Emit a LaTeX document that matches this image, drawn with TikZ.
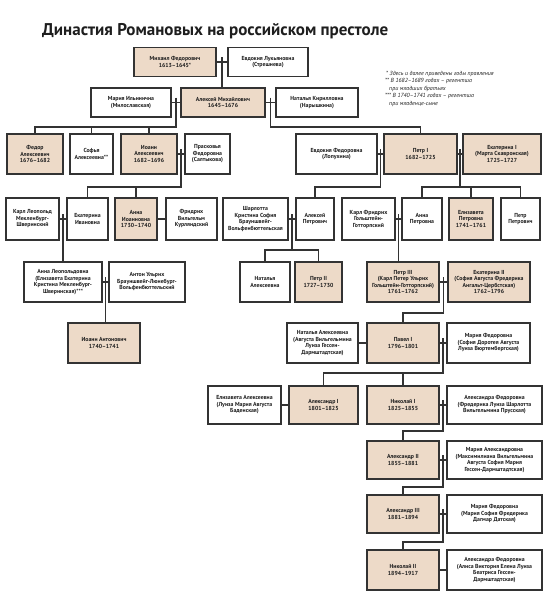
\documentclass[tikz,border=0pt]{standalone}
\usepackage{fontspec}
\setmainfont{PT Sans}
\usetikzlibrary{calc}
\definecolor{ruler}{HTML}{EDDAC8}
\definecolor{edge}{HTML}{333333}
\definecolor{ink}{HTML}{1E1E1E}
\newcommand{\famnode}[7]{\node[#1,minimum width=#5pt,minimum height=#6pt] (#2) at (#3,#4) {#7};}
\newcommand{\wed}[3]{\coordinate (#1) at ($(#2.east)!0.5!(#3.west)$); \draw[conn] (#2.east) -- (#3.west);}
\begin{document}
\begin{tikzpicture}[x=1pt,y=-1pt,
  plain/.style={draw=edge, line width=1.3pt, fill=white, align=center, inner sep=0.5pt,
    font=\fontsize{5.8}{6.5}\selectfont\bfseries, text=ink},
  rul/.style={plain, fill=ruler},
  conn/.style={draw=edge, line width=1.2pt}]
\fill[white] (0,0) rectangle (548,600);
\useasboundingbox (0,0) rectangle (548,600);

\node[anchor=base west, font=\fontsize{17}{20}\selectfont\bfseries, text=ink, inner sep=0pt] (title) at (42,35) {Династия Романовых на российском престоле};

\node[anchor=north west, align=left, inner sep=0pt, font=\fontsize{5.9}{7.4}\selectfont\itshape, text=ink] (notes) at (385,71)
 {\,* Здесь и далее приведены годы правления\\
  ** В 1682–1689 годах – регентша\\
  \hspace{4pt}при младших братьях\\
  *** В 1740–1741 годах – регентша\\
  \hspace{4pt}при младенце-сыне};

% row 1
\famnode{rul}{mikh}{175}{62}{82}{29}{Михаил Федорович\\1613–1645*}
\famnode{plain}{evdL}{268}{62}{80}{29}{Евдокия Лукьяновна\\(Стрешнева)}
% row 2
\famnode{plain}{maria}{131}{102.5}{80}{29}{Мария Ильинична\\(Милославская)}
\famnode{rul}{alexey}{223}{102.5}{84}{29}{Алексей Михайлович\\1645–1676}
\famnode{plain}{natK}{317}{102.5}{82}{29}{Наталья Кирилловна\\(Нарышкина)}
% row 3
\famnode{rul}{fedor}{35}{154}{56}{40}{Федор\\Алексеевич\\1676–1682}
\famnode{plain}{sofia}{91.5}{154}{43}{40}{Софья\\Алексеевна**}
\famnode{rul}{ioann}{149}{154}{56}{40}{Иоанн\\Алексеевич\\1682–1696}
\famnode{plain}{prask}{207.5}{154}{45}{40}{Прасковья\\Федоровна\\(Салтыкова)}
\famnode{plain}{evdF}{336.5}{154}{81}{40}{Евдокия Федоровна\\(Лопухина)}
\famnode{rul}{petr1}{420.5}{154}{73}{40}{Петр I\\1682–1725}
\famnode{rul}{ekat1}{502}{154}{78}{40}{Екатерина I\\(Марта Скавронская)\\1725–1727}
% row 4
\famnode{plain}{karlL}{32.5}{219}{53}{42}{Карл Леопольд\\Мекленбург-\\Шверинский}
\famnode{plain}{ekatI}{87.5}{219}{41}{42}{Екатерина\\Ивановна}
\famnode{rul}{annaI}{136}{219}{42}{42}{Анна\\Иоанновна\\1730–1740}
\famnode{plain}{fridr}{191.5}{219}{51}{42}{Фридрих\\Вильгельм\\Курляндский}
\famnode{plain}{sharl}{255.5}{219}{65}{42}{Шарлотта\\Кристина София\\Брауншвейг-\\Вольфенбюттельская}
\famnode{plain}{alexP}{315}{219}{38}{42}{Алексей\\Петрович}
\famnode{plain}{karlF}{368.5}{219}{53}{42}{Карл Фридрих\\Гольштейн-\\Готторпский}
\famnode{plain}{annaP}{422}{219}{40}{42}{Анна\\Петровна}
\famnode{rul}{elizP}{471}{219}{44}{42}{Елизавета\\Петровна\\1741–1761}
\famnode{plain}{petrP}{520.5}{219}{39}{42}{Петр\\Петрович}
% row 5
\famnode{plain}{annaL}{63}{282}{78}{40}{Анна Леопольдовна\\(Елизавета Екатерина\\Кристина Мекленбург-\\Шверинская)***}
\famnode{plain}{anton}{147}{282}{76}{40}{Антон Ульрих\\Брауншвейг-Люнебург-\\Вольфенбюттельский}
\famnode{plain}{natA}{265}{282}{50}{40}{Наталья\\Алексеевна}
\famnode{rul}{petr2}{318.5}{282}{47}{40}{Петр II\\1727–1730}
\famnode{rul}{petr3}{403}{282}{72}{40}{Петр III\\(Карл Петер Ульрих\\Гольштейн-Готторпский)\\1761–1762}
\famnode{rul}{ekat2}{489}{282}{82}{40}{Екатерина II\\(София Августа Фредерика\\Ангальт-Цербстская)\\1762–1796}
% row 6
\famnode{rul}{ioannA}{104}{343}{72}{40}{Иоанн Антонович\\1740–1741}
\famnode{plain}{natAug}{322.5}{343}{71}{40}{Наталья Алексеевна\\(Августа Вильгельмина\\Луиза Гессен-\\Дармштадтская)}
\famnode{rul}{pavel}{403}{343}{72}{40}{Павел I\\1796–1801}
\famnode{plain}{mariaF}{488.5}{343}{83}{40}{Мария Федоровна\\(София Доротея Августа\\Луиза Вюртембергская)}
% row 7
\famnode{plain}{elizA}{244.5}{405}{73}{38}{Елизавета Алексеевна\\(Луиза Мария Августа\\Баденская)}
\famnode{rul}{alex1}{323.5}{405}{69}{38}{Александр I\\1801–1825}
\famnode{rul}{nik1}{403}{405}{72}{38}{Николай I\\1825–1855}
\famnode{plain}{alexandraF}{494.5}{405}{95}{38}{Александра Федоровна\\(Фредерика Луиза Шарлотта\\Вильгельмина Прусская)}
% row 8
\famnode{rul}{alex2}{403}{460}{72}{38}{Александр II\\1855–1881}
\famnode{plain}{mariaA}{494.5}{460}{95}{38}{Мария Александровна\\(Максимилиана Вильгельмина\\Августа София Мария\\Гессен-Дармштадтская)}
% row 9
\famnode{rul}{alex3}{403}{514}{72}{38}{Александр III\\1881–1894}
\famnode{plain}{mariaF2}{494.5}{514}{95}{38}{Мария Федоровна\\(Мария София Фредерика\\Дагмар Датская)}
% row 10
\famnode{rul}{nik2}{403}{570}{72}{40}{Николай II\\1894–1917}
\famnode{plain}{alexandraF2}{494.5}{570}{95}{40}{Александра Федоровна\\(Алиса Виктория Елена Луиза\\Беатриса Гессен-\\Дармштадтская)}

% bus levels
\coordinate (b1) at (0,127);
\coordinate (b2) at (0,187);
\coordinate (b3) at (0,250);
\coordinate (b4) at (0,313);
\coordinate (b5) at (0,373);
\coordinate (b6) at (0,431);
\coordinate (b7) at (0,487);
\coordinate (b8) at (0,542);

% connectors
\wed{w1}{mikh}{evdL}
\draw[conn] ([yshift=5pt]w1) -- (w1 |- alexey.north);
\wed{w2}{maria}{alexey}
\draw[conn] ([yshift=5pt]w2) |- (fedor.north |- b1) -- (fedor.north);
\draw[conn] (sofia.north |- b1) -- (sofia.north);
\draw[conn] (ioann.north |- b1) -- (ioann.north);
\wed{w3}{alexey}{natK}
\draw[conn] ([yshift=5pt]w3) |- (petr1.north |- b1) -- (petr1.north);

\wed{w4}{ioann}{prask}
\draw[conn] ([yshift=5pt]w4) |- (ekatI.north |- b2) -- (ekatI.north);
\draw[conn] (annaI.north |- b2) -- (annaI.north);
\wed{w5}{evdF}{petr1}
\draw[conn] ([yshift=5pt]w5) |- (alexP.north |- b2) -- (alexP.north);
\wed{w6}{petr1}{ekat1}
\draw[conn] ([yshift=5pt]w6) -- (w6 |- b2);
\draw[conn] (annaP.north) -- (annaP.north |- b2) -- (petrP.north |- b2) -- (petrP.north);
\draw[conn] (elizP.north |- b2) -- (elizP.north);

\wed{w7}{karlL}{ekatI}
\draw[conn] ([yshift=5pt]w7) -- (w7 |- annaL.north);
\wed{w8}{annaI}{fridr}
\wed{w9}{sharl}{alexP}
\draw[conn] ([yshift=5pt]w9) -- (w9 |- b3);
\draw[conn] (natA.north) -- (natA.north |- b3) -- (petr2.north |- b3) -- (petr2.north);
\wed{w10}{karlF}{annaP}
\draw[conn] ([yshift=5pt]w10) -- (w10 |- petr3.north);

\wed{w11}{annaL}{anton}
\draw[conn] ([yshift=5pt]w11) -- (w11 |- ioannA.north);
\wed{w12}{petr3}{ekat2}
\draw[conn] ([yshift=5pt]w12) |- (pavel.north |- b4) -- (pavel.north);

\wed{w13}{natAug}{pavel}
\wed{w14}{pavel}{mariaF}
\draw[conn] ([yshift=5pt]w14) |- (alex1.north |- b5) -- (alex1.north);
\draw[conn] (nik1.north |- b5) -- (nik1.north);

\wed{w15}{elizA}{alex1}
\wed{w16}{nik1}{alexandraF}
\draw[conn] ([yshift=5pt]w16) |- (alex2.north |- b6) -- (alex2.north);
\wed{w17}{alex2}{mariaA}
\draw[conn] ([yshift=5pt]w17) |- (alex3.north |- b7) -- (alex3.north);
\wed{w18}{alex3}{mariaF2}
\draw[conn] ([yshift=5pt]w18) |- (nik2.north |- b8) -- (nik2.north);
\wed{w19}{nik2}{alexandraF2}
\end{tikzpicture}
\end{document}
